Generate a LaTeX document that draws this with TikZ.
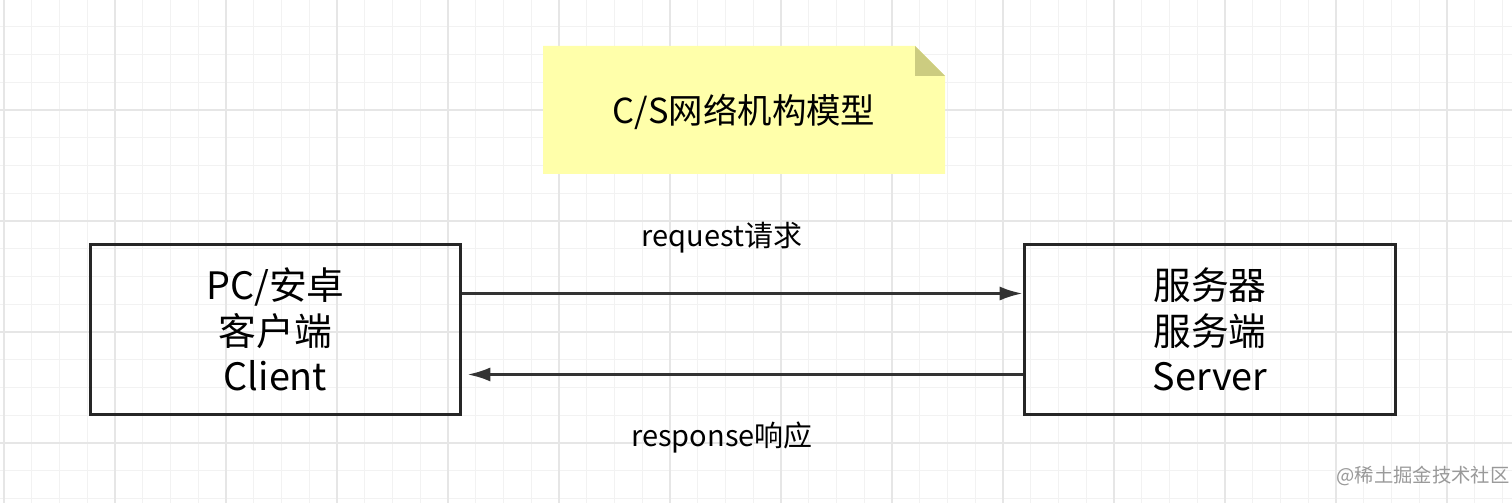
\documentclass[tikz,border=0pt]{standalone}
\usepackage{fontspec}
\setmainfont{Noto Sans CJK SC}
\usetikzlibrary{arrows.meta}
\definecolor{gridminor}{HTML}{F2F2F2}
\definecolor{gridmajor}{HTML}{E6E6E6}
\definecolor{notefill}{HTML}{FFFFAA}
\definecolor{notefold}{HTML}{CCCC80}
\tikzset{
  endbox/.style={draw=black!85, line width=1.7pt, align=center, font=\fontsize{21.5}{26}\selectfont},
  msgarrow/.style={-{Latex[length=13pt,width=8pt]}, draw=black!80, line width=1.6pt},
  msglabel/.style={font=\fontsize{16.5}{20}\selectfont}
}
\begin{document}
\begin{tikzpicture}[x=0.02cm, y=-0.02cm]
            \useasboundingbox (0,0) rectangle (1512,503);
            \fill[white] (0,0) rectangle (1512,503);
            % grid
            \foreach \i in {0,...,54} {\draw[gridminor, line width=0.6pt] ({4+27.75*\i},0) -- ({4+27.75*\i},503);}
            \foreach \i in {0,...,18} {\draw[gridminor, line width=0.6pt] (0,{-1+27.75*\i}) -- (1512,{-1+27.75*\i});}
            \foreach \i in {0,...,13} {\draw[gridmajor, line width=0.8pt] ({4+111*\i},0) -- ({4+111*\i},503);}
            \foreach \i in {0,...,4} {\draw[gridmajor, line width=0.8pt] (0,{-1+111*\i}) -- (1512,{-1+111*\i});}
            % note
            \fill[notefill] (543,46) -- (915,46) -- (945,76) -- (945,174) -- (543,174) -- cycle;
            \fill[notefold] (915,46) -- (945,76) -- (915,76) -- cycle;
            \node[font=\fontsize{19.6}{23}\selectfont] (title) at (744,112) {C/S网络机构模型};
            % end points
            \node[endbox, minimum width=7.42cm, minimum height=3.42cm] (client) at (275.5,329.5) {PC/安卓\\客户端\\Client};
            \node[endbox, minimum width=7.44cm, minimum height=3.42cm] (server) at (1210,329.5) {服务器\\服务端\\Server};
            % messages
            \draw[msgarrow] ([yshift=-1.02cm]client.north east) -- ([yshift=-1.02cm]server.north west);
            \draw[msgarrow] ([yshift=0.84cm]server.south west) -- ([xshift=0.1cm,yshift=0.84cm]client.south east);
            \node[msglabel] (request) at (722,238) {request请求};
            \node[msglabel] (response) at (722,438) {response响应};
            \node[font=\fontsize{11}{13}\selectfont, text=black!40] (mark) at (1423,476) {@稀土掘金技术社区};
\end{tikzpicture}
\end{document}
